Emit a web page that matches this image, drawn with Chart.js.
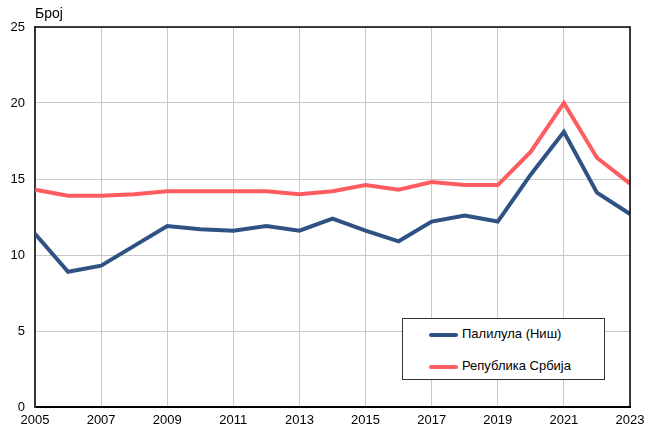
<!DOCTYPE html>
<html>
<head>
<meta charset="utf-8">
<script src="https://cdn.jsdelivr.net/npm/chart.js@4"></script>
<style>
  html,body{margin:0;padding:0;background:#fff;}
  #wrap{position:relative;width:648px;height:430px;}
  #legend{position:absolute;left:402px;top:318px;width:201px;height:60px;border:1px solid #333;background:#fff;
    font-family:'Liberation Sans',Arial,sans-serif;font-size:13px;color:#000;}
  .row{position:absolute;left:26px;height:16px;line-height:16px;white-space:nowrap;}
  .row i{display:inline-block;width:29px;height:4px;border-radius:2px;vertical-align:middle;margin-right:4px;}
</style>
</head>
<body>
<div id="wrap">
  <canvas id="c" width="648" height="430"></canvas>
  <div id="legend">
    <div class="row" style="top:7px"><i style="background:#2E5283"></i>Палилула (Ниш)</div>
    <div class="row" style="top:39px"><i style="background:#FF5C5F"></i>Република Србија</div>
  </div>
</div>
<script>
// ===== DATA =====
const years=[2005,2006,2007,2008,2009,2010,2011,2012,2013,2014,2015,2016,2017,2018,2019,2020,2021,2022,2023];
const palilula=[11.4,8.9,9.3,10.6,11.9,11.7,11.6,11.9,11.6,12.4,11.6,10.9,12.2,12.6,12.2,15.3,18.1,14.1,12.7];
const srbija=[14.3,13.9,13.9,14.0,14.2,14.2,14.2,14.2,14.0,14.2,14.6,14.3,14.8,14.6,14.6,16.8,20.0,16.4,14.7];
const yTicks=[0,5,10,15,20,25];
const yLabel='Број';

const BLUE='#2E5283',RED='#FF5C5F',GRID='#c8c8c8';
const pts=a=>a.map((v,i)=>({x:years[i],y:v}));

// frame + axis title
const frame={id:'frame',
  afterDraw(ch){
    const a=ch.chartArea,ctx=ch.ctx;
    ctx.save();
    ctx.strokeStyle='#000';ctx.lineWidth=1.5;
    ctx.beginPath();
    ctx.moveTo(a.left,a.top);ctx.lineTo(a.right,a.top);ctx.lineTo(a.right,a.bottom);
    ctx.stroke();
    ctx.fillStyle='#000';ctx.font="14px 'Liberation Sans',Arial,sans-serif";
    ctx.textBaseline='bottom';ctx.textAlign='left';
    ctx.fillText(yLabel,a.left,a.top-6);
    ctx.restore();
  }};

Chart.defaults.font.family="'Liberation Sans',Arial,sans-serif";
Chart.defaults.font.size=13;
Chart.defaults.color='#000';

new Chart(document.getElementById('c'),{type:'line',
  data:{datasets:[
    {label:'Палилула (Ниш)',data:pts(palilula),borderColor:BLUE,borderWidth:4,pointRadius:0,tension:0},
    {label:'Република Србија',data:pts(srbija),borderColor:RED,borderWidth:4,pointRadius:0,tension:0}
  ]},
  options:{responsive:false,animation:false,
    layout:{padding:{top:27,right:0,left:0,bottom:0}},
    plugins:{legend:{display:false},tooltip:{enabled:false}},
    scales:{
      x:{type:'linear',min:years[0],max:years[years.length-1],
        afterBuildTicks:s=>{s.ticks=years.filter((y,i)=>i%2===0).map(v=>({value:v}));},
        ticks:{callback:v=>String(v),padding:6,maxRotation:0},
        grid:{color:GRID,drawTicks:false},
        border:{color:'#000',width:2},
        afterFit:s=>{s.height=23;s.paddingRight=18;}},
      y:{min:0,max:25,
        afterBuildTicks:s=>{s.ticks=yTicks.map(v=>({value:v}));},
        ticks:{padding:10},
        grid:{color:GRID,drawTicks:false},
        border:{color:'#333',width:2},
        afterFit:s=>{s.width=35;}}
    }}
  ,plugins:[frame]});
</script>
</body>
</html>
